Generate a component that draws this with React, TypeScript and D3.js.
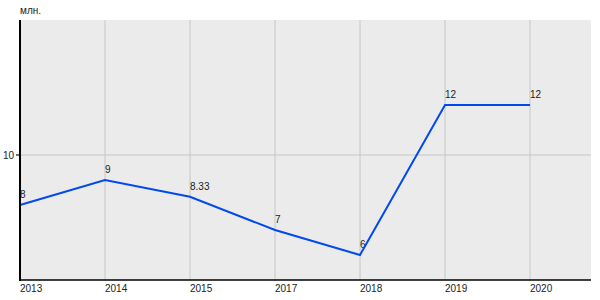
import React from "react";
import * as d3 from "d3";

const categories = ["2013", "2014", "2015", "2017", "2018", "2019", "2020"];
const values = [8, 9, 8.33, 7, 6, 12, 12];
const valueLabels = ["8", "9", "8.33", "7", "6", "12", "12"];
const yTicks = [10];
const unitLabel = "млн.";

const W = 600;
const H = 300;
const plotLeft = 20;
const plotRight = 591;
const plotTop = 20;
const plotBottom = 280;

export default function App() {
  const x = d3.scalePoint<string>().domain(categories).range([20, 530]);
  const y = d3.scaleLinear().domain([5, 15.4]).range([plotBottom, plotTop]);
  const line = d3
    .line<number>()
    .x((_, i) => x(categories[i]) as number)
    .y((d) => y(d));
  const font = "'Liberation Sans', Arial, sans-serif";
  return (
    <svg
      width={W}
      height={H}
      style={{ position: "absolute", left: 0, top: 0, background: "#fff" }}
      fontFamily={font}
    >
      <rect
        x={plotLeft}
        y={plotTop}
        width={plotRight - plotLeft}
        height={plotBottom - plotTop}
        fill="#ebebeb"
      />
      {categories.map((c) => (
        <line
          key={"gx" + c}
          x1={x(c)}
          x2={x(c)}
          y1={plotTop}
          y2={plotBottom}
          stroke="#c6c6c6"
          strokeWidth={1}
        />
      ))}
      {yTicks.map((t) => (
        <g key={"gy" + t}>
          <line
            x1={plotLeft - 4}
            x2={plotRight}
            y1={y(t)}
            y2={y(t)}
            stroke="#c6c6c6"
            strokeWidth={1}
          />
          <line x1={plotLeft - 4} x2={plotLeft} y1={y(t)} y2={y(t)} stroke="#000" />
          <text x={14} y={y(t) + 3.5} textAnchor="end" fontSize={10} fill="#222">
            {t}
          </text>
        </g>
      ))}
      {categories.map((c) => (
        <text key={"xl" + c} x={(x(c) as number)} y={292} fontSize={10} fill="#222">
          {c}
        </text>
      ))}
      <text x={20} y={14} fontSize={10} fill="#222">
        {unitLabel}
      </text>
      {values.map((v, i) => (
        <text
          key={"vl" + i}
          x={(x(categories[i]) as number)}
          y={y(v) - 7}
          fontSize={10}
          fill="#222"
        >
          {valueLabels[i]}
        </text>
      ))}
      <path d={line(values) || ""} fill="none" stroke="#0049ee" strokeWidth={2} />
      <line x1={plotLeft} x2={plotLeft} y1={plotTop} y2={plotBottom + 1} stroke="#000" strokeWidth={2} />
      <line x1={plotLeft} x2={plotRight} y1={plotBottom} y2={plotBottom} stroke="#000" strokeWidth={1.5} />
    </svg>
  );
}
